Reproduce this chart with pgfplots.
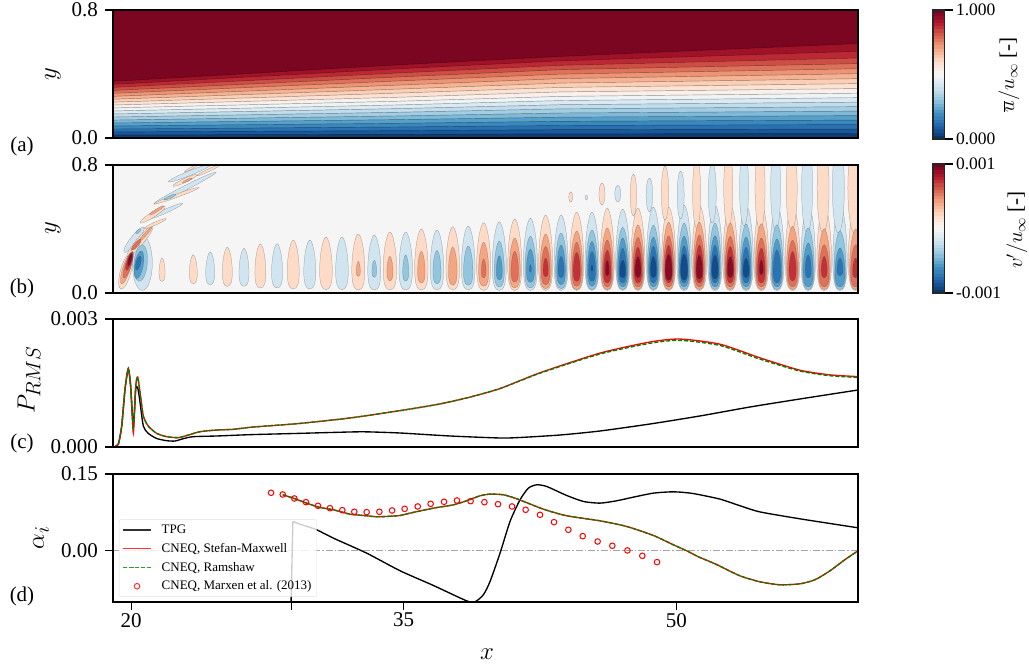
\documentclass[border=0pt]{standalone}
\usepackage[no-math]{fontspec}
\setmainfont{Liberation Serif}
\usepackage{pgfplots}
\pgfplotsset{compat=1.18}
\usepackage{pgfplotstable}

\definecolor{c1}{RGB}{12,62,116}\definecolor{c2}{RGB}{26,88,153}\definecolor{c3}{RGB}{42,113,178}
\definecolor{c4}{RGB}{59,136,189}\definecolor{c5}{RGB}{87,160,202}\definecolor{c6}{RGB}{126,185,215}
\definecolor{c7}{RGB}{162,205,226}\definecolor{c8}{RGB}{193,221,236}\definecolor{c9}{RGB}{219,233,242}
\definecolor{c10}{RGB}{238,243,245}\definecolor{c11}{RGB}{249,240,235}\definecolor{c12}{RGB}{252,226,211}
\definecolor{c13}{RGB}{251,206,182}\definecolor{c14}{RGB}{246,179,147}\definecolor{c15}{RGB}{236,148,117}
\definecolor{c16}{RGB}{221,113,90}\definecolor{c17}{RGB}{205,78,69}\definecolor{c18}{RGB}{187,42,52}
\definecolor{c19}{RGB}{159,18,40}\definecolor{c20}{RGB}{122,6,34}
\definecolor{R1}{RGB}{253,219,199}\definecolor{R2}{RGB}{244,165,130}\definecolor{R3}{RGB}{224,112,90}
\definecolor{R4}{RGB}{194,48,56}\definecolor{R5}{RGB}{138,10,38}
\definecolor{B1}{RGB}{209,229,240}\definecolor{B2}{RGB}{146,197,222}\definecolor{B3}{RGB}{80,155,200}
\definecolor{B4}{RGB}{42,116,179}\definecolor{B5}{RGB}{15,77,140}
\definecolor{mygreen}{RGB}{0,128,0}

\pgfdeclareplotmark{egg}{%
  \pgfpathmoveto{\pgfqpoint{0pt}{\lobeH pt}}%
  \pgfpathcurveto{\pgfpoint{0.4*\lobeW pt}{\lobeH pt}}{\pgfpoint{\lobeW pt}{0.72*\lobeH pt}}{\pgfpoint{\lobeW pt}{0.35*\lobeH pt}}%
  \pgfpathcurveto{\pgfpoint{\lobeW pt}{0.12*\lobeH pt}}{\pgfpoint{0.7*\lobeW pt}{0pt}}{\pgfqpoint{0pt}{0pt}}%
  \pgfpathcurveto{\pgfpoint{-0.7*\lobeW pt}{0pt}}{\pgfpoint{-\lobeW pt}{0.12*\lobeH pt}}{\pgfpoint{-\lobeW pt}{0.35*\lobeH pt}}%
  \pgfpathcurveto{\pgfpoint{-\lobeW pt}{0.72*\lobeH pt}}{\pgfpoint{-0.4*\lobeW pt}{\lobeH pt}}{\pgfqpoint{0pt}{\lobeH pt}}%
  \pgfpathclose\pgfusepathqfillstroke}
\pgfdeclareplotmark{ell}{%
  \pgftransformrotate{\lobeT}%
  \pgfpathellipse{\pgfqpoint{0pt}{0pt}}{\pgfpoint{\lobeA pt}{0pt}}{\pgfpoint{0pt}{\lobeB pt}}%
  \pgfusepathqfillstroke}

\pgfplotsset{
  colormap={rdbu}{rgb255=(5,48,97) rgb255=(33,102,172) rgb255=(67,147,195) rgb255=(146,197,222) rgb255=(209,229,240) rgb255=(247,247,247) rgb255=(253,219,199) rgb255=(244,165,130) rgb255=(214,96,77) rgb255=(178,24,43) rgb255=(103,0,31)},
  panel/.style={scale only axis,width=745pt,height=128pt,xmin=19,xmax=60,
    axis on top,
    axis line style={line width=1.4pt},
    every tick/.style={black,line width=1.1pt},
    major tick length=7.5pt,tick align=outside,tick pos=left,
    ticklabel style={font=\fontsize{21}{21}\selectfont},
    yticklabel style={xshift=-4pt},
    scaled y ticks=false,
    xtick=\empty,clip=true,clip marker paths=true},
  eggs/.style={only marks,scatter,point meta=x,mark=egg,forget plot,
    scatter/use mapped color={draw=black!70,fill=#1},
    mark options={line width=.25pt,draw opacity=.55},
    visualization depends on={value \thisrow{w}\as\lobeW},
    visualization depends on={\thisrow{t}-\thisrow{b}\as\lobeH}},
  ells/.style={only marks,scatter,point meta=x,mark=ell,forget plot,
    scatter/use mapped color={draw=black!70,fill=#1},
    mark options={line width=.25pt,draw opacity=.55},
    visualization depends on={value \thisrow{ang}\as\lobeT},
    visualization depends on={\thisrow{a}/3\as\lobeA},
    visualization depends on={\thisrow{bb}/3\as\lobeB}},
  necks/.style={only marks,scatter,point meta=x,mark=ell,forget plot,
    scatter/use mapped color={draw=black!70,fill=#1},
    mark options={line width=.25pt,draw opacity=.55},
    visualization depends on={value 0\as\lobeT},
    visualization depends on={value \thisrow{a}\as\lobeA},
    visualization depends on={value \thisrow{bb}\as\lobeB}},
  cbar/.style={scale only axis,width=11.5pt,height=129pt,xmin=0,xmax=1,ymin=0,ymax=1,
    axis on top,
    axis line style={line width=1.1pt,black!85},colormap name=rdbu,
    xtick=\empty,ytick={0,1},ytick pos=right,yticklabel pos=right,
    every tick/.style={black,line width=1.1pt},major tick length=8pt,tick align=outside,
    ticklabel style={font=\fontsize{17.5}{17.5}\selectfont},
    point meta min=0,point meta max=1},
  legend image code/.code={\draw[mark repeat=2,mark phase=2,#1] plot coordinates {(0pt,0pt)(14pt,0pt)(28pt,0pt)};\path (36pt,0pt);},
}

% mean-flow contour levels
\pgfplotstableread{
x L1 L2 L3 L4 L5 L6 L7 L8 L9 L10 L11 L12 L13 L14 L15 L16 L17 L18 L19 L20
19 .019 .038 .056 .075 .094 .112 .131 .15 .169 .188 .206 .224 .242 .26 .279 .297 .316 .335 .354 .8
34.8 .023 .046 .069 .092 .115 .138 .161 .184 .207 .23 .255 .281 .306 .331 .357 .382 .407 .433 .458 .8
43.6 .026 .052 .078 .104 .13 .156 .182 .208 .234 .26 .288 .316 .343 .371 .399 .427 .454 .482 .51 .8
60 .028 .056 .084 .112 .14 .168 .196 .224 .252 .28 .309 .34 .371 .402 .433 .465 .5 .542 .59 .8
}\tabMean

\pgfplotstableread{
x r g
19.02 0 0
19.29 .0000625 .0000625
19.48 .000492 .000492
19.66 .00135 .00135
19.84 .001836 .001836
19.97 .00143 .00143
20.12 .000336 .00048
20.25 .00143 .00143
20.36 .00164 .00164
20.49 .00127 .00127
20.67 .000727 .000727
20.94 .000492 .000492
21.40 .00032 .00032
21.95 .000242 .000242
22.60 .000219 .000219
23.15 .000281 .000281
23.79 .000359 .000359
24.71 .000398 .000398
25.62 .000414 .000414
26.54 .000461 .000461
27.46 .000492 .000492
29.29 .000553 .000553
32.04 .00068 .00068
35.02 .000867 .000867
37 .00101 .00101
38.65 .00117 .00117
40.3 .00137 .00137
42.5 .00174 .00173
45.8 .0022 .00218
48.55 .00246 .00243
50.2 .00253 .0025
52.4 .00241 .00238
54.6 .00209 .00206
56.8 .0018 .00178
58.46 .00169 .00167
60 .00165 .00163
}\tabPc

\pgfplotstableread{
x y
19.02 0
19.29 .0000625
19.48 .000492
19.66 .00135
19.84 .001836
19.97 .00143
20.12 .0005
20.25 .00135
20.36 .00139
20.49 .00104
20.67 .000492
20.94 .00032
21.40 .0002
21.95 .000148
22.41 .00014
22.87 .000195
23.42 .000242
24.71 .000258
26.54 .000289
29.29 .00032
32.04 .000352
33.0 .000355
34.8 .000328
37.55 .000258
40.3 .000211
41.4 .000223
43.6 .000281
45.8 .000375
48.55 .000539
51.3 .000727
54.06 .000938
56.8 .001125
60 .001336
}\tabPb

\pgfplotstableread{
x y
28.9 .0573
29.29 .052
30.21 .041
31.13 .0247
32.96 -.0046
34.8 -.039
36.63 -.0677
38.46 -.0977
38.92 -.0996
39.38 -.086
39.75 -.06
40.3 -.0046
40.85 .0573
41.4 .0996
41.86 .1224
42.32 .1289
42.87 .1256
43.97 .108
44.9 .0963
45.8 .0931
46.72 .0977
47.64 .1048
48.74 .1126
49.84 .1152
50.9 .112
52.4 .101
53.5 .088
54.6 .076
56.8 .0625
60 .0449
}\tabAb

\pgfplotstableread{
x y
28.34 .1094
28.92 .1029
29.66 .0931
30.39 .0846
31.13 .0801
32.04 .0716
32.96 .0684
33.51 .0664
34.06 .0671
34.8 .069
35.35 .0736
36.63 .0833
37.73 .0898
38.46 .0977
39.2 .1074
39.75 .1107
40.48 .1094
41.22 .1016
42.68 .0814
43.97 .0684
45.8 .0586
47.27 .0475
48.74 .0299
49.84 .0117
50.57 0
51.3 -.013
52.13 -.0254
53.5 -.0488
54.6 -.0605
55.7 -.0664
56.8 -.0645
57.63 -.0566
58.46 -.039
59.27 -.0176
60 0
}\tabAr

\pgfplotstableread{
x y
27.70 .1133
28.34 .11
28.98 .1022
29.62 .095
30.28 .0879
30.94 .0833
31.62 .0794
32.28 .0762
32.96 .0755
33.66 .0762
34.36 .0788
35.05 .082
35.77 .0866
36.48 .0918
37.22 .0957
37.93 .0983
38.68 .097
39.44 .095
40.19 .0911
40.96 .0866
41.71 .0801
42.5 .0703
43.27 .056
44.06 .041
44.85 .0286
45.67 .0182
46.48 .0098
47.31 .0007
48.13 -.0098
48.94 -.0221
}\tabMarx

\pgfplotstableread{
y
0
.025
.05
.075
.1
.125
.15
.175
.2
.225
.25
.275
.3
.325
.35
.375
.4
.425
.45
.475
.5
.525
.55
.575
.6
.625
.65
.675
.7
.725
.75
.775
.8
.825
.85
.875
.9
.925
.95
.975
1
}\tabBar

\begin{document}
\begin{tikzpicture}[x=1pt,y=1pt]
\useasboundingbox (0,0) rectangle (1029,665);

% ---------- (a)
\begin{axis}[panel,at={(113pt,527pt)},anchor=south west,ymin=0,ymax=.8,ytick={0,.8},yticklabels={0.0,0.8}]
\pgfplotsinvokeforeach{20,19,...,1}{
  \addplot[fill=c#1,draw=black,draw opacity=.4,line width=.45pt,forget plot] table[x=x,y=L#1]{\tabMean} \closedcycle;
}
\end{axis}

% ---------- (b)
\begin{axis}[panel,at={(113pt,372pt)},anchor=south west,ymin=0,ymax=.8,ytick={0,.8},yticklabels={0.0,0.8},
  axis background/.style={fill=black!4}]
\addplot[eggs=R1] table[x=x,y expr=\thisrow{b}/160]{
x b t w
21.70 11.7 35 3
23.42 9.3 38.3 4
25.29 6.7 45.7 5
27.11 5 49 5.5
28.92 4 53 6
30.72 3.3 56 6.3
32.50 3 59 6.5
34.24 3 61 6.7
35.97 3 64 6.7
37.70 3 66.3 6.8
39.40 2.5 70.3 7
41.11 2.5 74 7
42.81 2.5 78 7
44.52 2.5 81 7
46.20 2.5 85 7
47.89 2.5 85 7
49.58 2.5 86 7
51.27 2.5 88 7.3
52.97 2.5 88 7.3
54.68 2.5 88 7.3
56.40 2.5 88 7.3
58.14 2.5 88 7.3
59.87 2.5 88 7.3
};
\addplot[eggs=B1] table[x=x,y expr=\thisrow{b}/160]{
x b t w
24.35 8.3 41 4.5
26.21 6.7 44.7 5
28.03 5 49.3 5.5
29.83 4 53 6
31.60 3.3 56 6.3
33.38 3 58 6.5
35.11 3 61 6.7
36.83 3 63 6.7
38.55 3 67 6.8
40.26 2.5 71.3 7
41.97 2.5 74.7 7
43.66 2.5 78 7
45.36 2.5 81 7
47.05 2.5 84 7
48.74 2.5 86 7
50.43 2.5 88 7.2
52.13 2.5 88 7.2
53.84 2.5 88 7.2
55.54 2.5 88 7.2
57.26 2.5 88 7.2
59.01 2.5 88 7.2
};
\addplot[necks=R1] table[x=x,y expr=\thisrow{yc}/160]{
x yc a bb
44.19 96 2 5.2
45.91 99 3 11
47.64 98 3.2 21
49.38 100 3.7 27
51.12 100 4 35
52.86 105 4.5 40
54.61 105 5 42
56.35 105 5.5 42
58.08 105 6 45
59.80 105 6.5 45
};
\addplot[necks=B1] table[x=x,y expr=\thisrow{yc}/160]{
x yc a bb
45.05 95.5 1.3 2.5
46.78 99.3 3 8.3
48.52 98 3.3 17
50.24 98 3.5 24
51.98 100 4 30
53.73 105 4.5 38
55.47 105 5 42
57.20 105 5.5 45
58.92 105 6 45
};
% slanted structures near the inflow, zoomed-pixel coordinates
\addplot[ells=B1] table[x expr=19+(110+\thisrow{X}/3-113)/18.17,y expr=(133.3-\thisrow{Z}/3)/160]{
X Z a bb ang
97 310 82 30 90
72 240 48 11 52
165 155 58 6 24
225 85 105 7 27
240 40 70 7 22
};
\addplot[ells=R1] table[x expr=19+(110+\thisrow{X}/3-113)/18.17,y expr=(133.3-\thisrow{Z}/3)/160]{
X Z a bb ang
47 335 55 16 75
90 245 60 11 50
128 165 45 8 33
135 192 37 4.5 24
200 108 72 5 20
225 62 40 6 25
245 25 25 3 28
295 32 38 4 25
};
\addplot[eggs=R2] table[x=x,y expr=\thisrow{b}/160]{
x b t w
32.50 16.7 31.7 2
34.24 12.3 36.7 3
35.97 10 41.7 3.7
37.70 8 46 4.3
39.40 6.7 50.7 5
41.11 5 55 5.5
42.81 4.3 59 5.7
44.52 3.3 62 6
46.20 3.3 65 6
47.89 3.3 68 6
49.58 3.3 70.7 6
51.27 3.3 70.7 6
52.97 3.3 70 6
54.68 3.3 69.3 6
56.40 3.3 66.7 6
58.14 3.3 64.3 6
59.87 3.3 64 6
};
\addplot[eggs=B2] table[x=x,y expr=\thisrow{b}/160]{
x b t w
33.38 15.7 32.7 2.3
35.11 12 38 3
36.83 9.3 42.7 4
38.55 7.7 47 4.7
40.26 6 52 5
41.97 5 56.7 5.5
43.66 4.3 60 5.7
45.36 3.3 63 6
47.05 3.3 65.7 6
48.74 3.3 68 6
50.43 3.3 70 6
52.13 3.3 70 6
53.84 3.3 69 6
55.54 3.3 68.3 6
57.26 3.3 65 6
59.01 3.3 62.3 6
};
\addplot[ells=B2] table[x expr=19+(110+\thisrow{X}/3-113)/18.17,y expr=(133.3-\thisrow{Z}/3)/160]{
X Z a bb ang
92 310 55 20 85
85 215 10 4 45
180 112 20 4 25
};
\addplot[ells=R2] table[x expr=19+(110+\thisrow{X}/3-113)/18.17,y expr=(133.3-\thisrow{Z}/3)/160]{
X Z a bb ang
50 325 50 11 72
80 255 20 6 50
105 225 30 4 48
140 152 25 4 33
232 62 16 3 25
};
\addplot[eggs=R3] table[x=x,y expr=\thisrow{b}/160]{
x b t w
39.40 15 34 2.3
41.11 11 41.7 3.7
42.81 8.3 46.7 4.3
44.52 6.7 50.7 4.6
46.20 6 53 4.8
47.89 6 55.7 5
49.58 6 57 5
51.27 6 58 5
52.97 6 56.7 5
54.68 6 55 5
56.40 6 52.7 5
58.14 6 48.3 5
59.87 6 48.3 5
};
\addplot[eggs=B3] table[x=x,y expr=\thisrow{b}/160]{
x b t w
40.26 13.3 37.3 3
41.97 10.7 44 4
43.66 8.3 48 4.3
45.36 6.7 51.7 4.6
47.05 6 55 5
48.74 6 56 5
50.43 6 57 5
52.13 6 57.3 5
53.84 6 56 5
55.54 6 54 5
57.26 6 50 5
59.01 6 45 5
};
\addplot[ells=B3] table[x expr=19+(110+\thisrow{X}/3-113)/18.17,y expr=(133.3-\thisrow{Z}/3)/160]{
X Z a bb ang
87 315 42 13 80
};
\addplot[ells=R3] table[x expr=19+(110+\thisrow{X}/3-113)/18.17,y expr=(133.3-\thisrow{Z}/3)/160]{
X Z a bb ang
55 315 42 9 72
78 255 22 5 50
};
\addplot[eggs=R4] table[x=x,y expr=\thisrow{b}/160]{
x b t w
42.81 16 35 2.5
44.52 11.7 40.7 3.5
46.20 10 43 3.7
47.89 10 46 3.8
49.58 10 48 3.8
51.27 10 48.3 3.8
52.97 10 46.7 3.8
54.68 10 45 3.8
56.40 12 41.7 3.5
58.14 15 36.7 3
59.87 15 35 3
};
\addplot[eggs=B4] table[x=x,y expr=\thisrow{b}/160]{
x b t w
41.97 20.7 28.3 1
43.66 15 36.7 3
45.36 11.7 41.7 3.5
47.05 10 45 3.8
48.74 10 47 3.8
50.43 10 47.3 3.8
52.13 10 48 3.8
53.84 10 46 3.8
55.54 10 43.3 3.8
57.26 15 38.3 3
59.01 17 35 3
};
\addplot[ells=B4] table[x expr=19+(110+\thisrow{X}/3-113)/18.17,y expr=(133.3-\thisrow{Z}/3)/160]{
X Z a bb ang
85 310 22 7 75
};
\addplot[ells=R4] table[x expr=19+(110+\thisrow{X}/3-113)/18.17,y expr=(133.3-\thisrow{Z}/3)/160]{
X Z a bb ang
58 305 28 7 72
};
\addplot[eggs=R5] table[x=x,y expr=\thisrow{b}/160]{
x b t w
46.20 17 33 2
47.89 15 36.7 3
49.58 12.7 39 3.5
51.27 14 38.3 3.2
52.97 15 36.7 3
54.68 18 33.3 2
};
\addplot[eggs=B5] table[x=x,y expr=\thisrow{b}/160]{
x b t w
45.36 22 28 1
47.05 15 33 3
48.74 15 36.7 3
50.43 13 39.3 3.5
52.13 14 38.3 3.2
53.84 15 35 3
};
\addplot[ells=R5] table[x expr=19+(110+\thisrow{X}/3-113)/18.17,y expr=(133.3-\thisrow{Z}/3)/160]{
X Z a bb ang
60 300 20 5 75
};
\end{axis}

% ---------- (c)
\begin{axis}[panel,at={(113pt,218pt)},anchor=south west,ymin=0,ymax=.003,ytick={0,.003},yticklabels={0.000,0.003}]
\addplot[black,line width=1.35pt,smooth,tension=.4,forget plot] table[x=x,y=y]{\tabPb};
\addplot[red,line width=1.35pt,smooth,tension=.4,forget plot] table[x=x,y=r]{\tabPc};
\addplot[mygreen,line width=1.35pt,dash pattern=on 4pt off 2pt,smooth,tension=.4,forget plot] table[x=x,y=g]{\tabPc};
\end{axis}

% ---------- (d)
\begin{axis}[panel,at={(113pt,63pt)},anchor=south west,ymin=-.1,ymax=.15,ytick={0,.15},yticklabels={0.00,0.15},
  xtick={20,28.8,35,50},xticklabels={20,,35,50},
  legend cell align=left,
  legend style={at={(rel axis cs:.008,.04)},anchor=south west,fill=white,fill opacity=.8,draw opacity=.8,text opacity=1,
    draw=black!15,rounded corners=2pt,font=\fontsize{13}{13}\selectfont,row sep=4.3pt,inner sep=3.2pt}]
\addplot[black!35,line width=1pt,dash pattern=on 7pt off 2pt on 1.5pt off 2pt,forget plot] coordinates {(19,0)(60,0)};
\addplot[black,line width=1.35pt,forget plot] coordinates {(28.8,-.1)(28.9,.0573)};
\addplot[black,line width=1.35pt,smooth,tension=.4] table[x=x,y=y]{\tabAb};
\addlegendentry{TPG}
\addplot[red,line width=1.35pt,smooth,tension=.4] table[x=x,y=y]{\tabAr};
\addlegendentry{CNEQ, Stefan-Maxwell}
\addplot[mygreen,line width=1.35pt,dash pattern=on 4pt off 2pt,smooth,tension=.4] table[x=x,y=y]{\tabAr};
\addlegendentry{CNEQ, Ramshaw}
\addplot[only marks,mark=o,red,mark size=2.8pt,mark options={line width=1pt,fill=none}] table[x=x,y=y]{\tabMarx};
\addlegendentry{CNEQ, Marxen et al. (2013)}
\end{axis}

% ---------- colour bars
\begin{axis}[cbar,at={(933pt,526pt)},anchor=south west,yticklabels={0.000,1.000}]
\addplot[mesh,point meta=y,line width=11.5pt,forget plot] table[x expr=.5,y=y]{\tabBar};
\end{axis}
\begin{axis}[cbar,at={(933pt,372pt)},anchor=south west,yticklabels={-0.001,0.001}]
\addplot[mesh,point meta=y,line width=11.5pt,forget plot] table[x expr=.5,y=y]{\tabBar};
\end{axis}

% ---------- labels
\node[rotate=90,font=\fontsize{26}{26}\selectfont] at (53,591) {$y$};
\node[rotate=90,font=\fontsize{26}{26}\selectfont] at (53,437) {$y$};
\node[rotate=90,font=\fontsize{28}{28}\selectfont] at (29,285) {$P_{RMS}$};
\node[rotate=90,font=\fontsize{28}{28}\selectfont] at (41,127) {$\alpha_i$};
\node[font=\fontsize{26}{26}\selectfont] at (487,11) {$x$};
\node[font=\fontsize{21}{21}\selectfont] at (22,519) {(a)};
\node[font=\fontsize{21}{21}\selectfont] at (22,377) {(b)};
\node[font=\fontsize{21}{21}\selectfont] at (22,222) {(c)};
\node[font=\fontsize{21}{21}\selectfont] at (22,69) {(d)};
\node[rotate=90,font=\fontsize{21}{21}\selectfont] at (1009,590) {$\overline{u}/u_{\infty}$ [-]};
\node[rotate=90,font=\fontsize{21}{21}\selectfont] at (1017,435) {$v'/u_{\infty}$ [-]};
\end{tikzpicture}
\end{document}
